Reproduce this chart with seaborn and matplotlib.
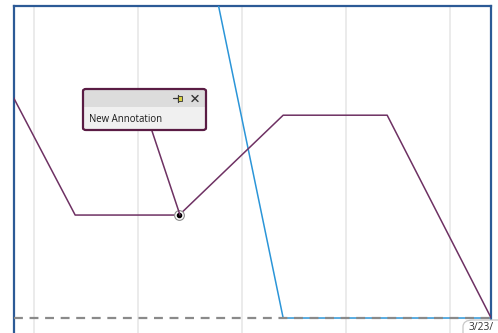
import pandas as pd
import matplotlib
matplotlib.use("Agg")
import matplotlib.pyplot as plt
import matplotlib.dates as mdates
from matplotlib.patches import FancyBboxPatch
from matplotlib.lines import Line2D
import seaborn as sns

# data (y in percent of the visible range)
purple_times = ["2020-03-18 09:30", "2020-03-19 09:30", "2020-03-20 09:30",
                "2020-03-21 09:30", "2020-03-22 09:30", "2020-03-23 09:30"]
purple_values = [96.5, 33, 33, 65, 65, 0]

blue_times = ["2020-03-20 09:30", "2020-03-21 09:30", "2020-03-22 09:30",
              "2020-03-23 09:30"]
blue_values = [161, 0, 0, 0]

grid_days = ["2020-03-19", "2020-03-20", "2020-03-21", "2020-03-22", "2020-03-23"]
annotation_text = "New Annotation"
cursor_label = "3/23/"

purple_df = pd.DataFrame({"time": pd.to_datetime(purple_times), "value": purple_values})
blue_df = pd.DataFrame({"time": pd.to_datetime(blue_times), "value": blue_values})

sns.set_style("white")
plt.rcParams["font.family"] = ["Open Sans", "DejaVu Sans"]

W, H = 498, 333
fig = plt.figure(figsize=(W / 100, H / 100), dpi=100)


def fx(px):
    return px / W


def fy(py):
    return 1 - py / H


ax = fig.add_axes([fx(14), fy(345), fx(491) - fx(14), fy(6) - fy(345)])

sns.lineplot(data=blue_df, x="time", y="value", ax=ax, color="#2b95d8", linewidth=1.1, zorder=3)
sns.lineplot(data=purple_df, x="time", y="value", ax=ax, color="#6e3163", linewidth=1.1, zorder=4)
ax.axhline(0, color="#8a8a8a", linestyle=(0, (4, 3)), linewidth=1.6, zorder=5)

day0 = mdates.date2num(pd.Timestamp(grid_days[0]))
ax.set_xlim(day0 - 20 / 104, day0 + 457 / 104)
ax.set_ylim(-8.65, 100)
ax.set_xticks([mdates.date2num(pd.Timestamp(d)) for d in grid_days])
ax.set_yticks([])
ax.tick_params(axis="x", length=0, labelbottom=False)
ax.grid(axis="x", color="#e9e9e9", linewidth=1.3)
ax.set_xlabel("")
ax.set_ylabel("")
for side in ["left", "top", "right"]:
    ax.spines[side].set_color("#2c5a96")
    ax.spines[side].set_linewidth(1.6)
ax.spines["bottom"].set_visible(False)

# annotation connector and anchor marker
fig.add_artist(Line2D([fx(152), fx(180)], [fy(131), fy(215)], color="#6e3163", linewidth=1.1, zorder=6))
anchor_x = mdates.date2num(pd.Timestamp(purple_times[2]))
ax.plot([anchor_x], [purple_values[2]], "o", markersize=7, markerfacecolor="white",
        markeredgecolor="#8a8a8a", markeredgewidth=0.8, zorder=7)
ax.plot([anchor_x], [purple_values[2]], "o", markersize=3, color="black", zorder=8)

# annotation box
body = FancyBboxPatch((fx(83), fy(130)), fx(206) - fx(83), fy(89) - fy(130),
                      boxstyle="round,pad=0,rounding_size=0.006",
                      facecolor="#f0f0f0", edgecolor="none", transform=fig.transFigure, zorder=9)
fig.add_artist(body)
header = FancyBboxPatch((fx(84), fy(107)), fx(205) - fx(84), fy(90) - fy(107),
                        boxstyle="square,pad=0", facecolor="#dcdcdc", edgecolor="none",
                        transform=fig.transFigure, zorder=10)
fig.add_artist(header)
frame = FancyBboxPatch((fx(83), fy(130)), fx(206) - fx(83), fy(89) - fy(130),
                       boxstyle="round,pad=0,rounding_size=0.006",
                       facecolor="none", edgecolor="#5a1c44", linewidth=1.6,
                       transform=fig.transFigure, zorder=11)
fig.add_artist(frame)
fig.text(fx(89), fy(120), annotation_text, fontsize=6.9, color="#1a1a1a", va="center", ha="left", zorder=12)

# pin icon
fig.add_artist(Line2D([fx(173), fx(178)], [fy(98.5), fy(98.5)], color="#333333", linewidth=0.9, zorder=12))
fig.add_artist(Line2D([fx(177.5), fx(177.5)], [fy(95), fy(102)], color="#333333", linewidth=0.9, zorder=12))
fig.add_artist(FancyBboxPatch((fx(178), fy(101)), fx(182) - fx(178), fy(96) - fy(101),
                              boxstyle="square,pad=0", facecolor="#d8d040", edgecolor="#333333",
                              linewidth=0.6, transform=fig.transFigure, zorder=12))
# close icon
fig.add_artist(Line2D([fx(192), fx(198)], [fy(95.5), fy(101.5)], color="#333333", linewidth=1.0, zorder=12))
fig.add_artist(Line2D([fx(192), fx(198)], [fy(101.5), fy(95.5)], color="#333333", linewidth=1.0, zorder=12))

# cursor date label at the bottom right
fig.add_artist(FancyBboxPatch((fx(463), fy(345)), fx(530) - fx(463), fy(320) - fy(345),
                              boxstyle="round,pad=0,rounding_size=0.02",
                              facecolor="white", edgecolor="#c8c8c8", linewidth=0.9,
                              transform=fig.transFigure, zorder=12))
fig.text(fx(469), fy(327.5), cursor_label, fontsize=7.4, color="#333333", va="center", ha="left", zorder=13)

fig.savefig("out.png", dpi=100)
